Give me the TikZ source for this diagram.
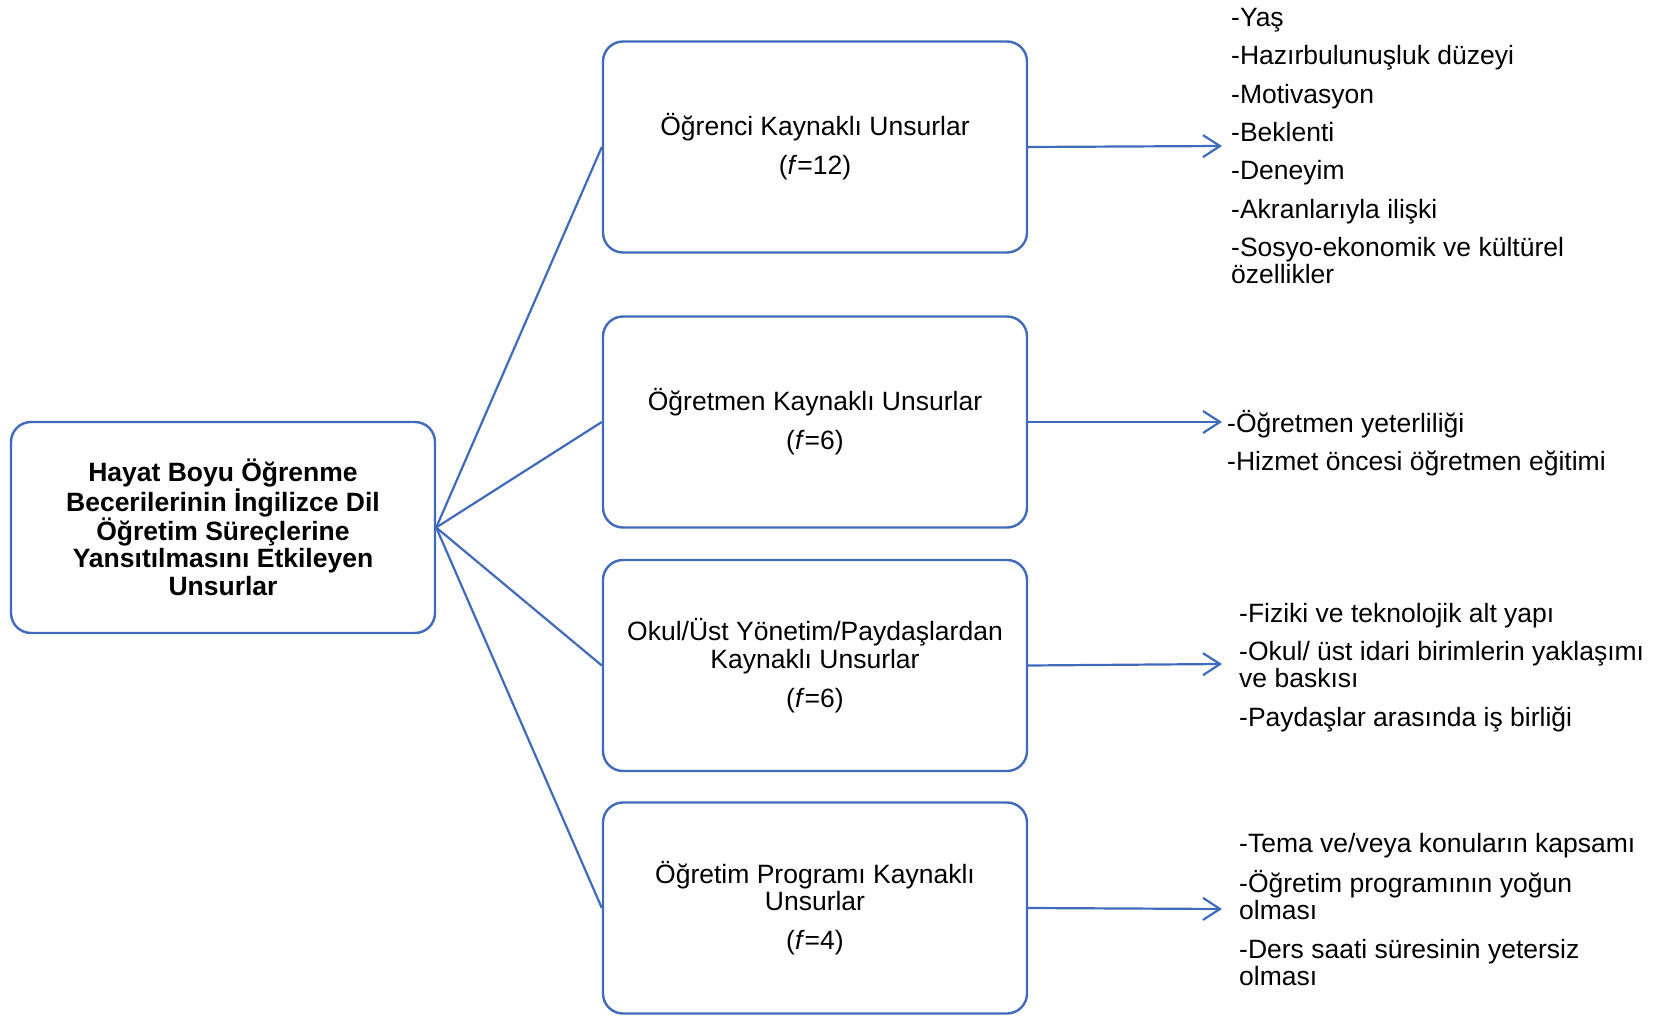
\documentclass[tikz,border=0pt]{standalone}
\usepackage{fontspec}
\setmainfont{Liberation Sans}
\usetikzlibrary{arrows.meta}
\definecolor{frame}{RGB}{64,106,186}
\begin{document}
\begin{tikzpicture}[x=1pt,y=-1pt,
  box/.style={draw=frame, line width=2.4pt, rounded corners=20pt,
    minimum width=424pt, minimum height=211pt, align=center, inner sep=0pt,
    font=\fontsize{26.5}{27.5}\selectfont},
  link/.style={draw=frame, line width=2.2pt},
  flow/.style={link, -{Straight Barb[length=17pt,width=22pt]}},
  list/.style={anchor=base west, align=left, inner sep=0pt,
    font=\fontsize{26.5}{27.5}\selectfont}]
\useasboundingbox (0,0) rectangle (1660,1016);

% central topic
\node[box, font=\fontsize{26.5}{27.5}\selectfont\bfseries] (main) at (223,527.5)
  {Hayat Boyu Öğrenme\\Becerilerinin İngilizce Dil\\Öğretim Süreçlerine\\Yansıtılmasını Etkileyen\\Unsurlar};

% factor groups
\node[box] (b1) at (815,147)   {Öğrenci Kaynaklı Unsurlar\\[11.5pt](\textit{f}=12)};
\node[box] (b2) at (815,422)   {Öğretmen Kaynaklı Unsurlar\\[11.5pt](\textit{f}=6)};
\node[box] (b3) at (815,665.5) {Okul/Üst Yönetim/Paydaşlardan\\Kaynaklı Unsurlar\\[11.5pt](\textit{f}=6)};
\node[box] (b4) at (815,908)   {Öğretim Programı Kaynaklı\\Unsurlar\\[11.5pt](\textit{f}=4)};

\foreach \b in {b1,b2,b3,b4} \draw[link] (main.east) -- (\b.west);

% arrow ends
\coordinate (e1) at (1222,146);
\coordinate (e2) at (1222,422);
\coordinate (e3) at (1222,664);
\coordinate (e4) at (1222,909);
\draw[flow] (b1.east) -- (e1);
\draw[flow] (b2.east) -- (e2);
\draw[flow] (b3.east) -- (e3);
\draw[flow] (b4.east) -- (e4);

% item lists (placed by the baseline of their last line)
\node[list] (l1) at (1231,284) {-Yaş\\[10.8pt]-Hazırbulunuşluk düzeyi\\[10.8pt]-Motivasyon\\[10.8pt]-Beklenti\\[10.8pt]-Deneyim\\[10.8pt]-Akranlarıyla ilişki\\[10.8pt]-Sosyo-ekonomik ve kültürel\\özellikler};
\node[list] (l2) at (1227,470.3) {-Öğretmen yeterliliği\\[10.8pt]-Hizmet öncesi öğretmen eğitimi};
\node[list] (l3) at (1239,726.1) {-Fiziki ve teknolojik alt yapı\\[10.8pt]-Okul/ üst idari birimlerin yaklaşımı\\ve baskısı\\[10.8pt]-Paydaşlar arasında iş birliği};
\node[list] (l4) at (1239,985.6) {-Tema ve/veya konuların kapsamı\\[10.8pt]-Öğretim programının yoğun\\olması\\[10.8pt]-Ders saati süresinin yetersiz\\olması};
\end{tikzpicture}
\end{document}
